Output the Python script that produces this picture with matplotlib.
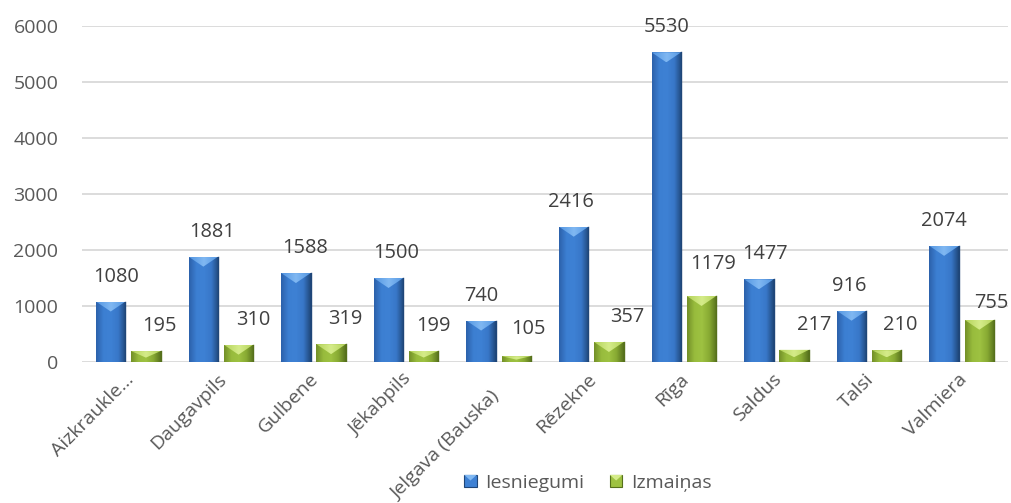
import numpy as np
import matplotlib
matplotlib.use("Agg")
import matplotlib.pyplot as plt
from matplotlib.colors import LinearSegmentedColormap
from matplotlib.patches import Polygon, Rectangle
from matplotlib.legend_handler import HandlerBase

categories = ["Aizkraukle...", "Daugavpils", "Gulbene", "Jēkabpils", "Jelgava (Bauska)",
              "Rēzekne", "Rīga", "Saldus", "Talsi", "Valmiera"]
iesniegumi = [1080, 1881, 1588, 1500, 740, 2416, 5530, 1477, 916, 2074]
izmainas = [195, 310, 319, 199, 105, 357, 1179, 217, 210, 755]
series_names = ["Iesniegumi", "Izmaiņas"]
yticks = [0, 1000, 2000, 3000, 4000, 5000, 6000]

# label offsets (pixels) -- styling only
blue_dx = [5, 9, 9, 8, 0, -3, 0, 6, -2, 0]
green_dx = [14, 15, 14, 10, 12, 18, 12, 20, 14, 12]
green_dy = [25, 25, 25, 25, 27, 25, 32, 25, 25, 17]
cat_dx = [6, 6, 6, 6, 2, 6, 6, 6, 6, 6]
cat_dy = [-18, -18, -18, -18, -35, -18, -18, -18, -18, -18]

plt.rcParams['font.family'] = ['Open Sans', 'DejaVu Sans']

W, H = 1011, 503
fig = plt.figure(figsize=(W / 100, H / 100), dpi=100)
ax_left, ax_right, ax_bot, ax_top = 82, 1008, 362, 26
ax = fig.add_axes([ax_left / W, 1 - ax_bot / H, (ax_right - ax_left) / W, (ax_bot - ax_top) / H])

n = len(categories)
x = np.arange(n)
bw = 0.318
off = 0.19
ax.set_xlim(-0.5, n - 0.5)
ax.set_ylim(0, 6000)

px_y = 6000 / (ax_bot - ax_top)           # data units per pixel (y)

blue_body = ["#2c61aa", "#3c7fd2", "#3e81d4", "#3877c8", "#1f4678"]
blue_top = ["#5496e2", "#80b8f2", "#5496e2"]
green_body = ["#728f28", "#98bc3d", "#9ec242", "#88aa33", "#56701c"]
green_top = ["#b3d258", "#d5ec8a", "#b3d258"]

for gl in yticks:
    ax.axhline(gl, color="#d9d9d9", lw=1.3, zorder=0)


def fancy_bars(xs, vals, body, top):
    bars = ax.bar(xs, vals, width=bw, color=body[1], edgecolor="none", zorder=2)
    cmap = LinearSegmentedColormap.from_list("b", body)
    cmap_t = LinearSegmentedColormap.from_list("t", top)
    grad = np.linspace(0, 1, 128).reshape(1, -1)
    for r in bars:
        x0, w, h = r.get_x(), r.get_width(), r.get_height()
        im = ax.imshow(grad, extent=(x0, x0 + w, 0, h), aspect="auto", cmap=cmap,
                       zorder=3, interpolation="bilinear")
        im.set_clip_path(r)
        bev = min(10 * px_y, h * 0.6)
        tri = Polygon([(x0, h), (x0 + w, h), (x0 + w / 2, h - bev)], closed=True,
                      facecolor="none", edgecolor="none", zorder=4)
        ax.add_patch(tri)
        im2 = ax.imshow(grad, extent=(x0, x0 + w, h - bev, h), aspect="auto", cmap=cmap_t,
                        zorder=4, interpolation="bilinear")
        im2.set_clip_path(tri)
        ax.plot([x0 + w, x0 + w], [0, h], color=body[-1], lw=1.0, zorder=5)
    return bars


fancy_bars(x - off, iesniegumi, blue_body, blue_top)
fancy_bars(x + off, izmainas, green_body, green_top)
ax.set_xlim(-0.5, n - 0.5)
ax.set_ylim(0, 6000)

lab_kw = dict(ha="center", va="center", fontsize=14.4, color="#404040",
              textcoords="offset pixels", zorder=6)
for i in range(n):
    ax.annotate(str(iesniegumi[i]), (x[i] - off, iesniegumi[i]), xytext=(blue_dx[i], 25), **lab_kw)
    ax.annotate(str(izmainas[i]), (x[i] + off, izmainas[i]), xytext=(green_dx[i], green_dy[i]), **lab_kw)

for s in ax.spines.values():
    s.set_visible(False)
ax.set_yticks(yticks)
ax.set_yticklabels([str(t) for t in yticks])
ax.tick_params(axis="y", length=0, pad=17, labelsize=14, labelcolor="#595959")
ax.set_xticks([])

for i, c in enumerate(categories):
    ax.annotate(c, (x[i], 0), xycoords=("data", "axes fraction"), xytext=(cat_dx[i], cat_dy[i]),
                textcoords="offset pixels", rotation=45, rotation_mode="anchor",
                ha="right", va="baseline", fontsize=14, color="#595959", annotation_clip=False)


class GradHandler(HandlerBase):
    def __init__(self, body, top):
        super().__init__()
        self.body, self.top = body, top

    def create_artists(self, legend, orig_handle, xdescent, ydescent, width, height, fontsize, trans):
        s = min(width, height)
        x0 = -xdescent + (width - s) / 2
        y0 = -ydescent + (height - s) / 2
        r = Rectangle((x0, y0), s, s, facecolor=self.body[2], edgecolor=self.body[-1], lw=0.8,
                      transform=trans)
        t = Polygon([(x0, y0 + s), (x0 + s, y0 + s), (x0 + s / 2, y0 + s * 0.55)],
                    facecolor=self.top[1], edgecolor="none", transform=trans)
        return [r, t]


h1 = Rectangle((0, 0), 1, 1)
h2 = Rectangle((0, 0), 1, 1)
leg = fig.legend([h1, h2], series_names, loc="center", bbox_to_anchor=(588 / W, 1 - 483 / H),
                 ncol=2, frameon=False, fontsize=14, labelcolor="#595959",
                 handlelength=0.65, handleheight=0.65, handletextpad=0.45, columnspacing=1.3,
                 handler_map={h1: GradHandler(blue_body, blue_top), h2: GradHandler(green_body, green_top)})
leg.set_zorder(10)

fig.savefig("out.png", dpi=100)
